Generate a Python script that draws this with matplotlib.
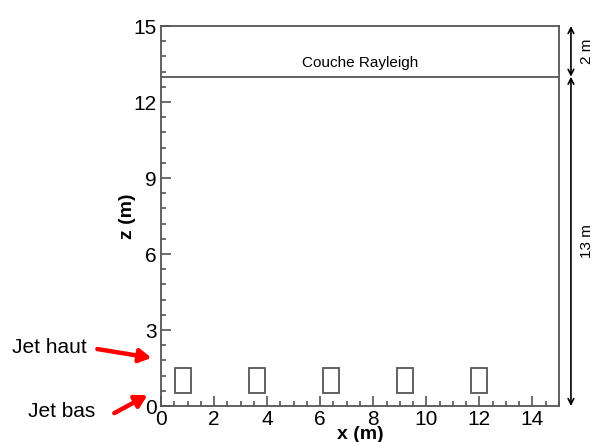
import matplotlib
matplotlib.use("Agg")
import matplotlib.pyplot as plt
from matplotlib.patches import Rectangle
from matplotlib.ticker import MultipleLocator

plt.rcParams['font.family'] = ['Liberation Sans', 'DejaVu Sans']

# Data
jet_x_centers = [0.83, 3.62, 6.4, 9.2, 12.0]
jet_width = 0.6
jet_z_bottom = 0.5
jet_height = 1.0
rayleigh_z = 13
domain_top = 15
xticks = [0, 2, 4, 6, 8, 10, 12, 14]
zticks = [0, 3, 6, 9, 12, 15]

edge = '#555555'

fig = plt.figure(figsize=(5.95, 4.42), dpi=100)
ax = fig.add_axes([0.2706, 0.0814, 0.6689, 0.8596])
ax.set_xlim(0, 15)
ax.set_ylim(0, 15)

for s in ax.spines.values():
    s.set_color(edge)
    s.set_linewidth(1.3)

ax.set_xticks(xticks)
ax.set_yticks(zticks)
ax.xaxis.set_minor_locator(MultipleLocator(0.5))
ax.yaxis.set_minor_locator(MultipleLocator(0.6))
ax.tick_params(which='both', direction='in', color=edge, width=1.2, top=False, right=False)
ax.tick_params(which='major', length=7, labelsize=15, pad=3)
ax.tick_params(which='minor', length=3.5)

ax.axhline(rayleigh_z, color=edge, lw=1.3)
ax.text(7.5, rayleigh_z + 0.25, 'Couche Rayleigh', ha='center', va='bottom', fontsize=11)

for xc in jet_x_centers:
    ax.add_patch(Rectangle((xc - jet_width / 2, jet_z_bottom), jet_width, jet_height,
                           fill=False, edgecolor=edge, lw=1.3))

ax.set_xlabel('x (m)', fontsize=14, fontweight='bold', labelpad=-2)
ax.set_ylabel('z (m)', fontsize=14, fontweight='bold', labelpad=-2)

# Right-side dimension arrows
xa = 15.45
ax.annotate('', xy=(xa, domain_top), xytext=(xa, rayleigh_z), xycoords='data',
            arrowprops=dict(arrowstyle='<->', color='black', lw=1.2, shrinkA=0, shrinkB=0),
            annotation_clip=False)
ax.annotate('', xy=(xa, rayleigh_z), xytext=(xa, 0), xycoords='data',
            arrowprops=dict(arrowstyle='<->', color='black', lw=1.2, shrinkA=0, shrinkB=0),
            annotation_clip=False)
ax.text(16.05, (domain_top + rayleigh_z) / 2, '2 m', rotation=90, ha='center', va='center',
        fontsize=11, clip_on=False)
ax.text(16.05, rayleigh_z / 2, '13 m', rotation=90, ha='center', va='center',
        fontsize=11, clip_on=False)

# Left-side jet labels
red_arrow = dict(arrowstyle='-|>,head_length=0.7,head_width=0.4', color='red', lw=3.2,
                 shrinkA=0, shrinkB=0)
ax.text(-4.22, 2.33, 'Jet haut', ha='center', va='center', fontsize=15, clip_on=False)
ax.annotate('', xy=(-0.36, 1.9), xytext=(-2.4, 2.25), xycoords='data',
            arrowprops=red_arrow, annotation_clip=False)
ax.text(-3.76, -0.2, 'Jet bas', ha='center', va='center', fontsize=15, clip_on=False)
ax.annotate('', xy=(-0.51, 0.43), xytext=(-1.76, -0.28), xycoords='data',
            arrowprops=red_arrow, annotation_clip=False)

fig.savefig('out.png', dpi=100)
